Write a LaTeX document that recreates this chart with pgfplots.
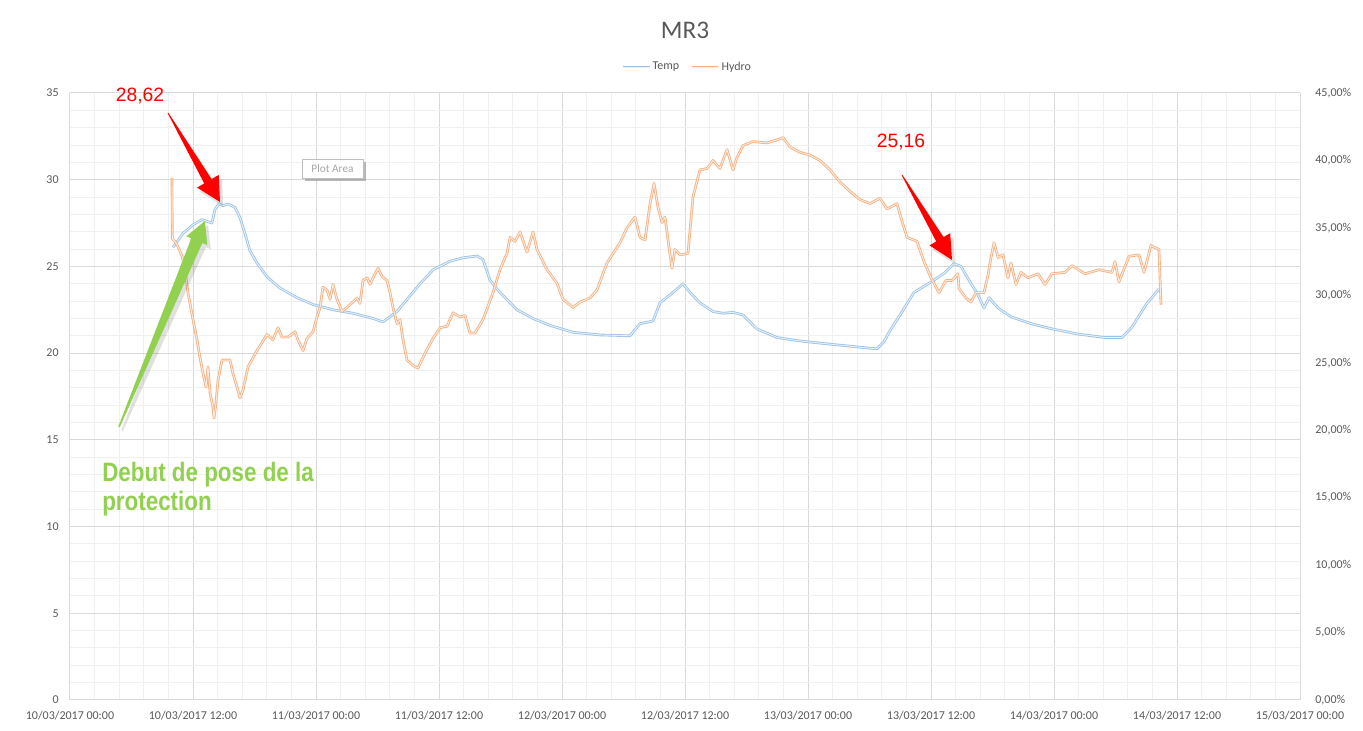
\documentclass[border=0pt]{standalone}
\usepackage{fontspec}
\setmainfont{Carlito}
\newfontfamily\arial{Liberation Sans}
\usepackage{graphicx}
\usepackage{pgfplots}
\usepackage{pgfplotstable}
\pgfplotsset{compat=1.18}
\usetikzlibrary{calc}
\definecolor{tempc}{RGB}{157,195,230}
\definecolor{hydroc}{RGB}{244,177,131}
\definecolor{gridmaj}{RGB}{217,217,217}
\definecolor{gridmin}{RGB}{240,240,240}
\definecolor{lblgrey}{RGB}{89,89,89}
\definecolor{annred}{RGB}{255,0,0}
\definecolor{anngreen}{RGB}{146,208,80}

\pgfplotstableread{
h t
10.05 26.1
11.02 26.9
12.00 27.4
12.88 27.7
13.37 27.6
13.85 27.5
14.15 28.3
14.54 28.62
14.93 28.5
15.41 28.6
16.10 28.4
16.59 27.8
17.07 26.9
17.56 25.9
18.24 25.2
19.22 24.4
20.49 23.75
22.15 23.2
23.71 22.8
25.66 22.5
27.61 22.3
29.56 22.0
30.54 21.8
31.22 22.1
31.90 22.4
32.88 23.1
34.15 24.0
35.41 24.8
37.07 25.3
38.34 25.5
39.71 25.6
40.29 25.4
40.98 24.2
41.95 23.5
43.61 22.5
45.17 22.0
46.83 21.6
49.07 21.2
51.71 21.05
54.63 21.0
55.61 21.7
56.88 21.85
57.56 22.9
58.83 23.5
59.80 24.0
60.49 23.5
61.46 22.9
62.73 22.4
63.71 22.3
64.68 22.35
65.66 22.2
67.02 21.4
68.98 20.9
71.22 20.7
74.44 20.5
77.76 20.3
78.73 20.25
79.41 20.65
80.00 21.3
80.98 22.2
82.34 23.5
84.00 24.1
85.27 24.6
86.24 25.16
86.93 25.0
87.61 24.3
88.59 23.35
89.17 22.6
89.66 23.2
90.54 22.6
91.80 22.1
93.76 21.7
95.80 21.4
98.34 21.1
100.98 20.9
102.63 20.9
103.61 21.5
104.98 22.8
106.24 23.7
}\temptable

\pgfplotstableread{
h p
9.95 38.7
9.98 34.2
10.24 34.0
10.54 33.6
10.93 32.9
11.22 31.9
11.51 30.2
12.00 28.2
12.39 26.7
12.68 25.4
12.98 24.2
13.27 23.2
13.46 24.7
13.66 22.8
13.95 21.7
14.05 20.9
14.24 22.0
14.44 23.7
14.83 25.2
15.61 25.2
15.90 24.2
16.29 23.2
16.59 22.4
16.88 23.0
17.37 24.7
18.24 25.9
19.22 27.1
19.80 26.7
20.29 27.6
20.68 26.9
21.27 26.9
21.95 27.3
22.24 26.7
22.73 25.9
23.12 26.8
23.71 27.3
24.10 28.4
24.39 29.1
24.68 30.6
25.07 30.4
25.37 29.7
25.66 30.8
26.05 29.7
26.54 28.8
27.32 29.3
28.00 29.8
28.29 29.4
28.59 31.1
28.98 31.3
29.27 30.8
29.56 31.3
30.05 32.0
30.44 31.4
30.93 31.1
31.22 30.2
31.51 29.1
31.90 27.9
32.20 28.2
32.49 26.7
32.88 25.2
33.46 24.8
33.95 24.6
34.63 25.7
35.41 26.8
36.10 27.6
36.78 27.7
37.37 28.7
38.05 28.4
38.54 28.5
39.02 27.2
39.51 27.2
40.29 28.2
41.27 30.2
41.95 31.9
42.63 33.1
42.93 34.3
43.41 34.0
43.90 34.7
44.59 33.2
45.17 34.7
45.56 33.4
46.54 31.9
47.51 30.9
48.10 29.7
49.07 29.1
49.76 29.5
50.73 29.8
51.41 30.4
52.39 32.4
53.66 33.9
54.34 35.0
55.12 35.8
55.61 34.3
56.10 34.1
56.59 36.8
56.98 38.3
57.37 36.5
57.76 35.4
58.05 35.8
58.34 34.1
58.73 32.0
59.02 33.4
59.51 33.0
60.29 33.1
60.78 37.3
61.46 39.3
62.15 39.4
62.73 40.0
63.41 39.4
64.10 40.8
64.68 39.3
65.07 40.2
65.66 41.1
66.63 41.4
68.00 41.3
69.27 41.6
69.56 41.7
70.24 41.0
71.22 40.6
72.20 40.4
73.17 40.0
74.15 39.3
75.12 38.4
76.10 37.7
77.07 37.1
78.05 36.8
79.02 37.2
79.71 36.4
80.68 36.8
81.17 35.5
81.66 34.3
82.63 34.0
83.32 32.5
84.00 31.3
84.78 30.2
85.46 31.1
86.05 31.1
86.63 31.6
86.73 30.5
87.41 29.8
87.90 29.5
88.39 30.2
89.17 30.2
89.56 31.5
89.85 32.8
90.15 33.9
90.54 32.8
91.02 33.0
91.51 31.3
91.80 32.4
92.29 30.8
92.78 31.7
93.46 31.3
94.44 31.6
95.12 30.8
95.80 31.6
97.07 31.7
97.76 32.2
99.02 31.6
100.39 31.9
101.66 31.7
101.95 32.5
102.34 31.0
103.32 32.9
104.29 33.0
104.78 31.7
105.46 33.7
105.95 33.5
106.24 33.4
106.44 29.3
}\hydrotable

\newcommand\fatarrow[7]{%
  \coordinate (T) at #2; \coordinate (P) at #3;
  \coordinate (B) at ($(P)!#7!(T)$);
  \fill[#1] ($(T)!#4!90:(P)$) -- ($(B)!#5!90:(P)$) -- ($(B)!#6!90:(P)$) -- (P)
    -- ($(B)!#6!-90:(P)$) -- ($(B)!#5!-90:(P)$) -- ($(T)!#4!-90:(P)$) -- cycle;
}

\begin{document}
\begin{tikzpicture}
\begin{axis}[
  at={(0,0)}, anchor=south west,
  width=922.5pt, height=455.25pt, scale only axis,
  xmin=0, xmax=120, ymin=0, ymax=35,
  xtick={0,12,...,120},
  xticklabels={10/03/2017 00:00,10/03/2017 12:00,11/03/2017 00:00,11/03/2017 12:00,12/03/2017 00:00,12/03/2017 12:00,13/03/2017 00:00,13/03/2017 12:00,14/03/2017 00:00,14/03/2017 12:00,15/03/2017 00:00},
  ytick={0,5,...,35}, yticklabels={0,5,10,15,20,25,30,35},
  minor x tick num=4, minor y tick num=4,
  grid=both,
  major grid style={draw=gridmaj, line width=0.75pt},
  minor grid style={draw=gridmin, line width=0.75pt},
  axis line style={draw=none},
  major tick length=0pt, minor tick length=0pt,
  tick label style={font=\fontsize{9}{10}\selectfont, text=lblgrey},
  xticklabel style={yshift=-5pt},
  yticklabel style={xshift=-5pt},
  clip=false,
]
\addplot[tempc, line width=2pt, line join=round] table[x=h,y=t]{\temptable};
\addplot[tempc!25!white, line width=0.7pt, line join=round] table[x=h,y=t]{\temptable};
\end{axis}
\begin{axis}[
  at={(0,0)}, anchor=south west,
  width=922.5pt, height=455.25pt, scale only axis,
  xmin=0, xmax=120, ymin=0, ymax=45,
  axis x line=none, axis y line*=right,
  axis line style={draw=none},
  ytick={0,5,...,45},
  yticklabels={{0,00\%},{5,00\%},{10,00\%},{15,00\%},{20,00\%},{25,00\%},{30,00\%},{35,00\%},{40,00\%},{45,00\%}},
  major tick length=0pt,
  tick label style={font=\fontsize{9}{10}\selectfont, text=lblgrey},
  yticklabel style={xshift=8pt},
]
\addplot[hydroc, line width=2pt, line join=round] table[x=h,y=p]{\hydrotable};
\addplot[hydroc!25!white, line width=0.7pt, line join=round] table[x=h,y=p]{\hydrotable};
\end{axis}

\begin{scope}[x=0.75pt, y=-0.75pt, shift={(-52.5pt,525pt)}]
  % title
  \node[text=lblgrey, font=\fontsize{19}{22}\selectfont] at (685,30) {MR3};
  % legend
  \draw[tempc, line width=2pt] (623,67) -- (650,67);
  \draw[tempc!25!white, line width=0.7pt] (623,67) -- (650,67);
  \node[anchor=west, inner sep=1pt, text=lblgrey, font=\fontsize{9}{10}\selectfont] at (651,67) {Temp};
  \draw[hydroc, line width=2pt] (692,67) -- (718,67);
  \draw[hydroc!25!white, line width=0.7pt] (692,67) -- (718,67);
  \node[anchor=west, inner sep=1pt, text=lblgrey, font=\fontsize{9}{10}\selectfont] at (720,67) {Hydro};
  % Plot Area tooltip
  \fill[black!45, opacity=0.6] (305,162) rectangle (366,181);
  \filldraw[fill=white, draw=black!25] (302,159) rectangle (363,178);
  \node[text=black!35, font=\fontsize{8.5}{10}\selectfont] at (332.5,168.5) {Plot Area};
  % red labels
  \node[text=annred, font=\arial\fontsize{14.5}{16}\selectfont] at (140,96) {28,62};
  \node[text=annred, font=\arial\fontsize{14.5}{16}\selectfont] at (901,142) {25,16};
  % arrows (soft shadows first)
  \fatarrow{black, opacity=0.12}{(171,117)}{(223,206)}{0.3pt}{3.6pt}{9.8pt}{18pt}
  \fatarrow{annred}{(168,113)}{(220,202)}{0.3pt}{3.2pt}{9.4pt}{18pt}
  \fatarrow{black, opacity=0.12}{(905,179)}{(955,264)}{0.3pt}{3.6pt}{9.4pt}{18pt}
  \fatarrow{annred}{(902,175)}{(952,260)}{0.3pt}{3.2pt}{9pt}{18pt}
  \fatarrow{black, opacity=0.12}{(122,431)}{(208,225)}{0.6pt}{5pt}{9pt}{16pt}
  \fatarrow{anngreen}{(119,427)}{(205,221)}{0.6pt}{4.5pt}{8.5pt}{16pt}
  % green text
  \node[anchor=base west, inner sep=0pt, text=anngreen, font=\arial\bfseries\fontsize{20}{22}\selectfont] at (102,482) {\scalebox{0.84}[1]{Debut de pose de la}};
  \node[anchor=base west, inner sep=0pt, text=anngreen, font=\arial\bfseries\fontsize{20}{22}\selectfont] at (102,511) {\scalebox{0.84}[1]{protection}};
  \pgfresetboundingbox
  \path[use as bounding box] (0,0) rectangle (1363,731);
\end{scope}
\end{tikzpicture}
\end{document}
